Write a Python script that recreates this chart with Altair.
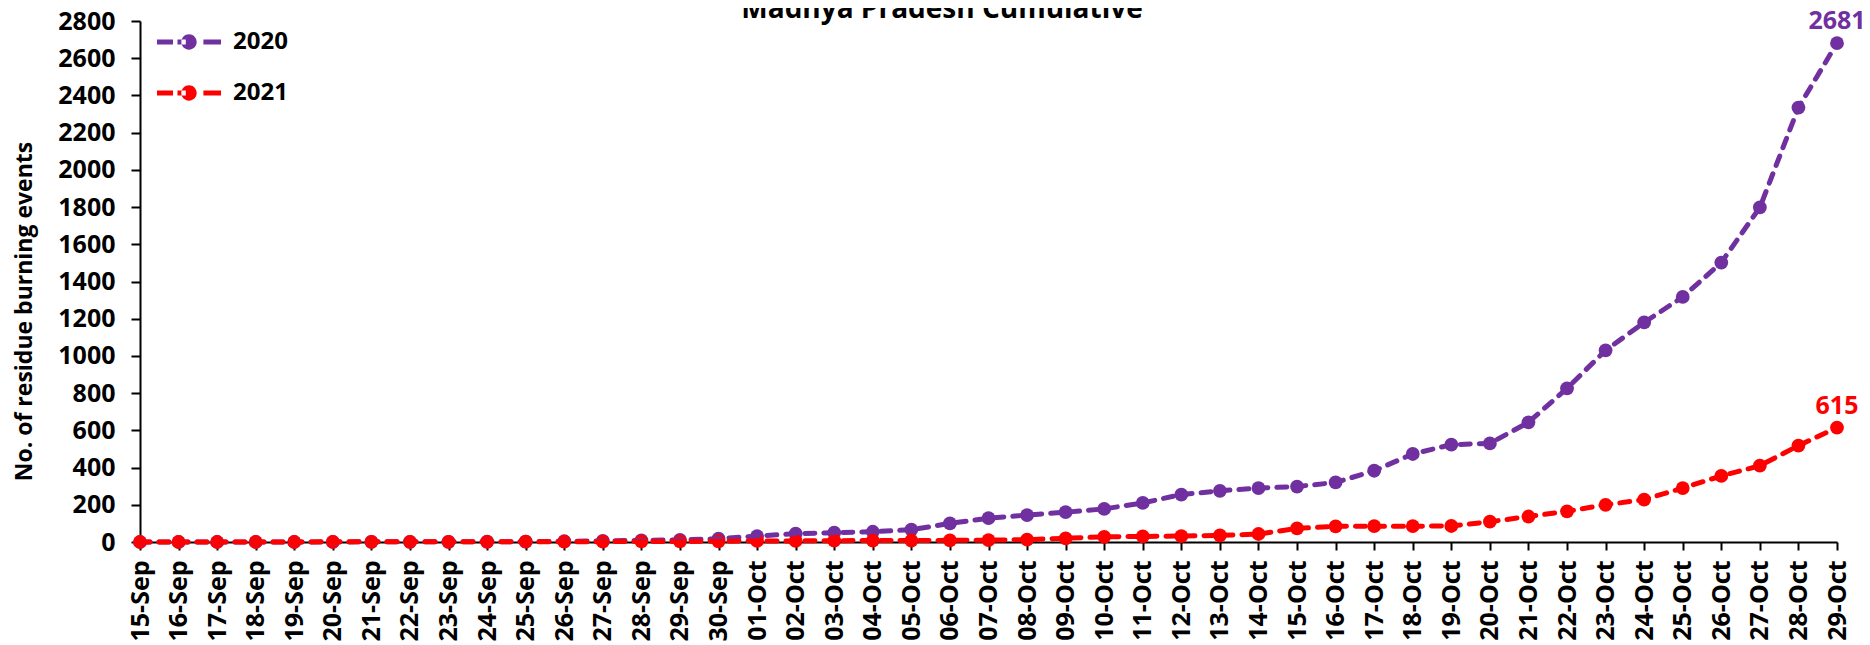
import altair as alt
import pandas as pd

title_text = "Madhya Pradesh Cumulative"

dates = ["15-Sep", "16-Sep", "17-Sep", "18-Sep", "19-Sep", "20-Sep", "21-Sep", "22-Sep",
         "23-Sep", "24-Sep", "25-Sep", "26-Sep", "27-Sep", "28-Sep", "29-Sep", "30-Sep",
         "01-Oct", "02-Oct", "03-Oct", "04-Oct", "05-Oct", "06-Oct", "07-Oct", "08-Oct",
         "09-Oct", "10-Oct", "11-Oct", "12-Oct", "13-Oct", "14-Oct", "15-Oct", "16-Oct",
         "17-Oct", "18-Oct", "19-Oct", "20-Oct", "21-Oct", "22-Oct", "23-Oct", "24-Oct",
         "25-Oct", "26-Oct", "27-Oct", "28-Oct", "29-Oct"]

values_2020 = [0, 0, 0, 0, 0, 0, 1, 1, 1, 2, 2, 4, 6, 9, 12, 18,
               32, 45, 50, 55, 66, 100, 128, 145, 160, 178, 210, 255, 275, 290, 298, 320,
               383, 473, 523, 530, 643, 826, 1030, 1180, 1317, 1502, 1798, 2335, 2681]

values_2021 = [0, 0, 0, 0, 0, 1, 1, 1, 1, 1, 2, 2, 2, 3, 3, 4,
               6, 6, 7, 8, 8, 9, 10, 13, 20, 28, 30, 32, 35, 43, 73, 84,
               85, 85, 86, 109, 137, 165, 200, 228, 290, 355, 410, 518, 615]

series = ["2020", "2021"]
colors = ["#7030A0", "#FF0000"]

rows = []
for i, d in enumerate(dates):
    rows.append({"date": d, "year": "2020", "value": values_2020[i], "order": i})
    rows.append({"date": d, "year": "2021", "value": values_2021[i], "order": i})
df = pd.DataFrame(rows)

FONT = "Open Sans"

legend_path = ("M-1,-0.08H-0.5V0.08H-1Z "
               "M-0.36,-0.08H-0.1V0.08H-0.36Z "
               "M0.45,-0.08H1V0.08H0.45Z "
               "M-0.24,0A0.24,0.24,0,1,0,0.24,0A0.24,0.24,0,1,0,-0.24,0Z")

x_enc = alt.X("date:N", sort=dates,
              scale=alt.Scale(type="point", padding=0),
              axis=alt.Axis(title=None, labelAngle=-90, labelFont=FONT, labelFontSize=25,
                            labelFontWeight="bold", labelColor="black", labelPadding=10,
                            tickSize=8, tickColor="black", tickWidth=2,
                            domainColor="black", domainWidth=2, grid=False))
y_enc = alt.Y("value:Q",
              scale=alt.Scale(domain=[0, 2800], nice=False),
              axis=alt.Axis(values=list(range(0, 2801, 200)), grid=False, format="d",
                            title="No. of residue burning events",
                            titleFont=FONT, titleFontSize=23, titleFontWeight="bold",
                            titleColor="black", titleX=-109, titleY=290,
                            titleBaseline="alphabetic", titleAngle=-90,
                            labelFont=FONT, labelFontSize=25, labelFontWeight="bold",
                            labelColor="black", labelPadding=16,
                            tickSize=9, tickColor="black", tickWidth=2,
                            domainColor="black", domainWidth=2))
color_scale = alt.Scale(domain=series, range=colors)

base = alt.Chart(df)

points = base.mark_circle(size=190, opacity=1).encode(
    x=x_enc, y=y_enc,
    color=alt.Color("year:N", scale=color_scale,
                    legend=alt.Legend(title=None, orient="none", legendX=17, legendY=1,
                                      symbolType=legend_path, symbolSize=4096,
                                      symbolStrokeWidth=0, symbolOpacity=1,
                                      labelFont=FONT, labelFontSize=24,
                                      labelFontWeight="bold", labelColor="black",
                                      labelOffset=12, clipHeight=40, rowPadding=11,
                                      padding=0)),
)

line = base.mark_line(strokeWidth=5, strokeDash=[10, 9], strokeCap="round").encode(
    x=x_enc, y=y_enc,
    color=alt.Color("year:N", scale=color_scale, legend=None),
    order="order:Q",
)

labels = base.transform_filter(alt.datum.date == dates[-1]).mark_text(
    dy=-14, fontSize=25, font=FONT, fontWeight="bold", baseline="alphabetic", align="center"
).encode(
    x=x_enc, y=y_enc,
    text=alt.Text("value:Q"),
    color=alt.Color("year:N", scale=color_scale, legend=None),
)

title = alt.Chart(pd.DataFrame({"t": [title_text]})).mark_text(
    font=FONT, fontSize=28, fontWeight="bold", color="black",
    align="center", baseline="alphabetic"
).encode(x=alt.value(802), y=alt.value(-3), text="t:N")

chart = alt.layer(points, line, labels, title).properties(
    width=1697, height=521,
    autosize=alt.AutoSizeParams(type="none"),
    padding={"left": 132, "top": 13, "right": 25, "bottom": 100},
).configure_view(strokeWidth=0)

chart.save("out.html", embed_options={"renderer": "svg", "actions": False})
